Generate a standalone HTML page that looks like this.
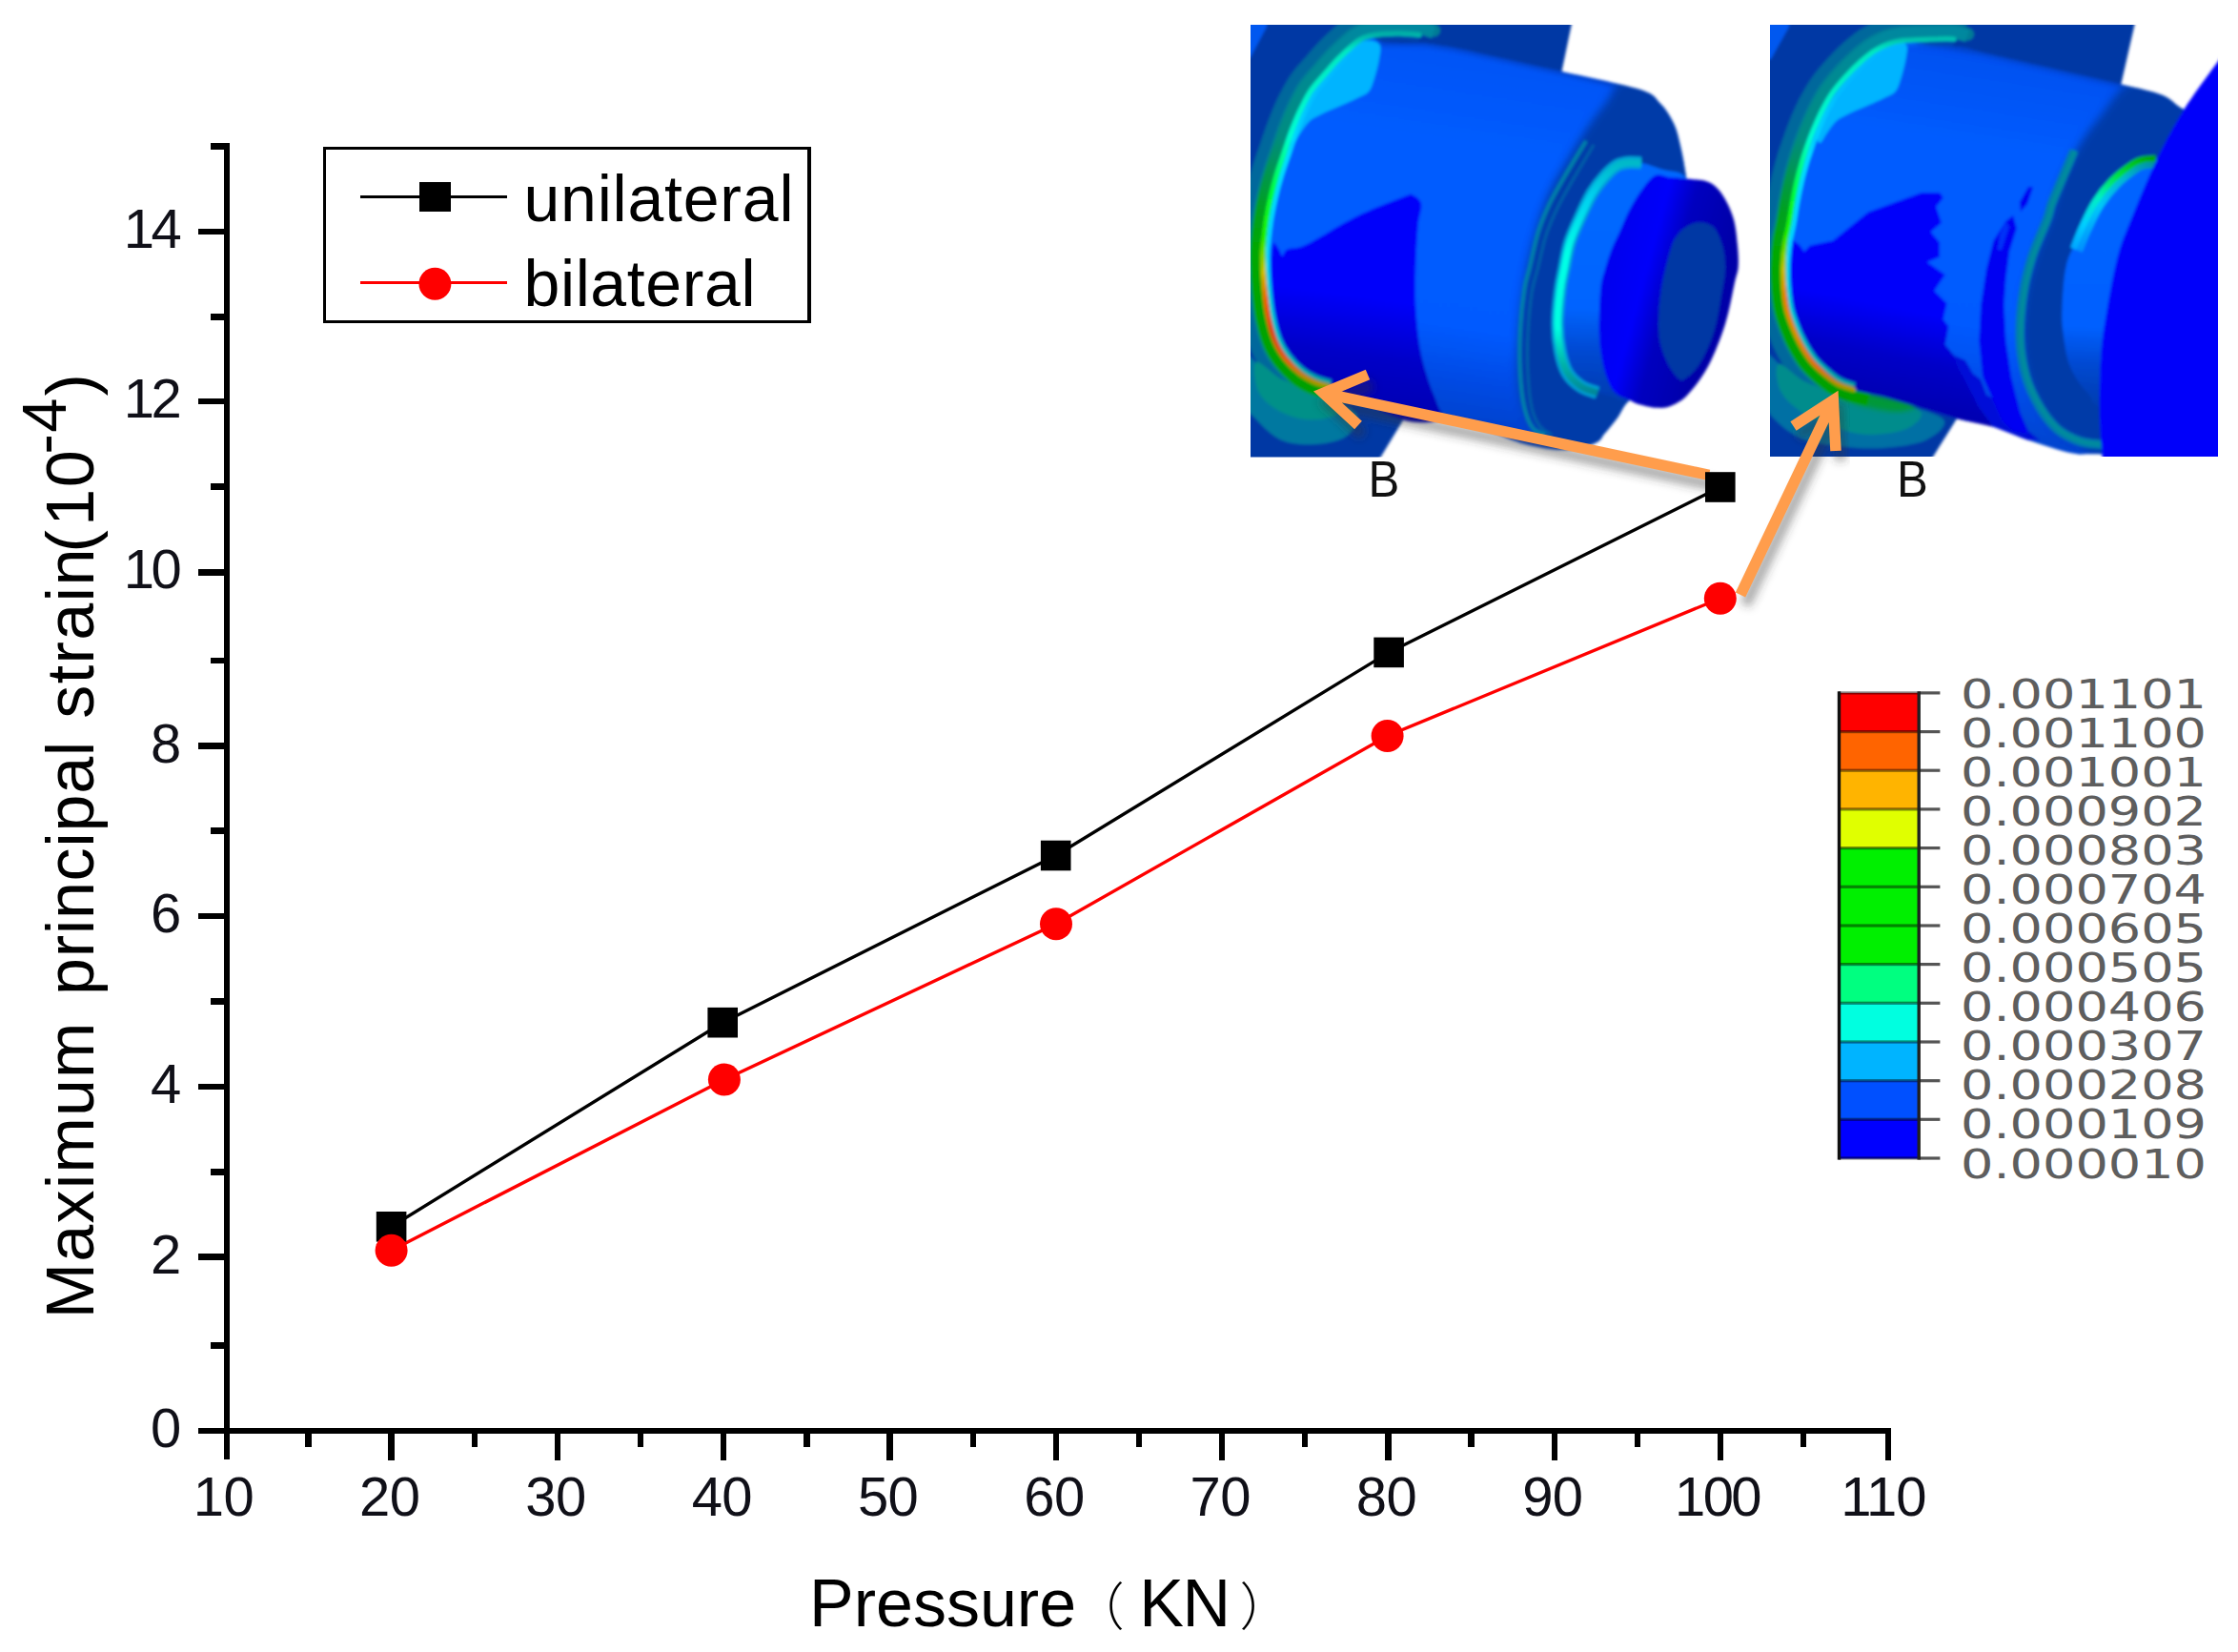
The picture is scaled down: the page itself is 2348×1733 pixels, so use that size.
<!DOCTYPE html>
<html lang="en"><head><meta charset="utf-8"><title>Maximum principal strain vs pressure</title>
<style>
html,body{margin:0;padding:0;background:#fff;}
body{width:2348px;height:1733px;overflow:hidden;}
svg{display:block;}
text{white-space:pre;}
</style></head><body>
<svg width="2348" height="1733" viewBox="0 0 2348 1733">
<rect width="2348" height="1733" fill="#fff"/>
<defs>
<clipPath id="clip1"><rect x="1312" y="26" width="520" height="453.5"/></clipPath>
<clipPath id="clip2"><rect x="1857" y="26" width="470" height="453"/></clipPath>
<filter id="soft" x="-5%" y="-5%" width="110%" height="110%"><feGaussianBlur stdDeviation="1.4"/></filter>
<filter id="soft2" x="-10%" y="-10%" width="120%" height="120%"><feGaussianBlur stdDeviation="2.5"/></filter>
<filter id="soft3" x="-10%" y="-10%" width="120%" height="120%"><feGaussianBlur stdDeviation="4"/></filter>
<linearGradient id="cylg1" gradientUnits="userSpaceOnUse" x1="1560" y1="60" x2="1500" y2="450">
 <stop offset="0" stop-color="#0054f6"/><stop offset="0.25" stop-color="#005cff"/><stop offset="0.72" stop-color="#005aff"/><stop offset="0.88" stop-color="#0048e0"/><stop offset="1" stop-color="#0040c8"/>
</linearGradient>
<linearGradient id="patchg1" gradientUnits="userSpaceOnUse" x1="1420" y1="310" x2="1405" y2="420">
 <stop offset="0" stop-color="#0000fa"/><stop offset="0.55" stop-color="#0000c8"/><stop offset="1" stop-color="#0000b4"/>
</linearGradient>
<linearGradient id="bandg1" gradientUnits="userSpaceOnUse" x1="1700" y1="180" x2="1690" y2="420">
 <stop offset="0" stop-color="#0068ff"/><stop offset="0.6" stop-color="#0064ff"/><stop offset="0.8" stop-color="#0048d0"/><stop offset="1" stop-color="#003cb0"/>
</linearGradient>
<linearGradient id="cyg1" gradientUnits="userSpaceOnUse" x1="0" y1="170" x2="0" y2="412">
 <stop offset="0" stop-color="#00b8c8"/><stop offset="0.15" stop-color="#00d0f0"/><stop offset="0.4" stop-color="#00ffe6"/><stop offset="0.72" stop-color="#00ffe0"/><stop offset="0.88" stop-color="#00b0a8"/><stop offset="1" stop-color="#008898"/>
</linearGradient>
<linearGradient id="scg1" gradientUnits="userSpaceOnUse" x1="1690" y1="290" x2="1800" y2="320">
 <stop offset="0" stop-color="#0000f0"/><stop offset="0.3" stop-color="#0000fa"/><stop offset="0.55" stop-color="#0000c0"/><stop offset="1" stop-color="#0000a8"/>
</linearGradient>
<linearGradient id="ringhot1" gradientUnits="userSpaceOnUse" x1="0" y1="30" x2="0" y2="406">
 <stop offset="0" stop-color="#00a0a0"/><stop offset="0.06" stop-color="#00e8c0"/><stop offset="0.30" stop-color="#00ffd0"/><stop offset="0.45" stop-color="#00ff40"/><stop offset="0.58" stop-color="#20f000"/><stop offset="0.68" stop-color="#d0c000"/><stop offset="0.76" stop-color="#f06000"/><stop offset="0.84" stop-color="#e04810"/><stop offset="0.93" stop-color="#e06010"/><stop offset="1" stop-color="#a0a000"/>
</linearGradient>
<linearGradient id="ringdk1" gradientUnits="userSpaceOnUse" x1="0" y1="30" x2="0" y2="406">
 <stop offset="0" stop-color="#0088a0"/><stop offset="0.3" stop-color="#008c80"/><stop offset="0.5" stop-color="#00a020"/><stop offset="0.62" stop-color="#00a800"/><stop offset="1" stop-color="#00a000"/>
</linearGradient>
<linearGradient id="ringin1" gradientUnits="userSpaceOnUse" x1="0" y1="30" x2="0" y2="406">
 <stop offset="0" stop-color="#00b4ff" stop-opacity="0"/><stop offset="0.35" stop-color="#00e0ff"/><stop offset="0.6" stop-color="#00d8ff"/><stop offset="0.8" stop-color="#00c8d0"/><stop offset="1" stop-color="#00a0a0"/>
</linearGradient>
<linearGradient id="cylg2" gradientUnits="userSpaceOnUse" x1="2110" y1="60" x2="2050" y2="450">
 <stop offset="0" stop-color="#0050f0"/><stop offset="0.25" stop-color="#005cff"/><stop offset="0.72" stop-color="#005aff"/><stop offset="0.88" stop-color="#004ce8"/><stop offset="1" stop-color="#0044d0"/>
</linearGradient>
<linearGradient id="patchg2" gradientUnits="userSpaceOnUse" x1="1975" y1="320" x2="1955" y2="420">
 <stop offset="0" stop-color="#0000fa"/><stop offset="0.5" stop-color="#0000c8"/><stop offset="1" stop-color="#0000b0"/>
</linearGradient>
<linearGradient id="bandg2" gradientUnits="userSpaceOnUse" x1="2200" y1="200" x2="2190" y2="430">
 <stop offset="0" stop-color="#0064ff"/><stop offset="0.62" stop-color="#0060ff"/><stop offset="0.8" stop-color="#0048d0"/><stop offset="1" stop-color="#003cac"/>
</linearGradient>
<linearGradient id="grg2" gradientUnits="userSpaceOnUse" x1="2262" y1="168" x2="2180" y2="262">
 <stop offset="0" stop-color="#00a800"/><stop offset="0.3" stop-color="#00e040"/><stop offset="0.55" stop-color="#00f0c0"/><stop offset="0.8" stop-color="#00d0ff"/><stop offset="1" stop-color="#00a8ff"/>
</linearGradient>
<linearGradient id="grg2b" gradientUnits="userSpaceOnUse" x1="2262" y1="168" x2="2180" y2="262">
 <stop offset="0" stop-color="#008ca0"/><stop offset="0.3" stop-color="#00b8d0"/><stop offset="0.6" stop-color="#00c8f8"/><stop offset="1" stop-color="#0090ff"/>
</linearGradient>
<linearGradient id="ringhot2" gradientUnits="userSpaceOnUse" x1="0" y1="30" x2="0" y2="412">
 <stop offset="0" stop-color="#00a0a0"/><stop offset="0.06" stop-color="#00e8c0"/><stop offset="0.30" stop-color="#00ffd0"/><stop offset="0.45" stop-color="#00ff40"/><stop offset="0.56" stop-color="#20f000"/><stop offset="0.66" stop-color="#c8c000"/><stop offset="0.74" stop-color="#e88000"/><stop offset="0.84" stop-color="#d89000"/><stop offset="0.93" stop-color="#e07010"/><stop offset="1" stop-color="#a0a000"/>
</linearGradient>
<linearGradient id="ringdk2" gradientUnits="userSpaceOnUse" x1="0" y1="30" x2="0" y2="412">
 <stop offset="0" stop-color="#0088a0"/><stop offset="0.3" stop-color="#008c80"/><stop offset="0.5" stop-color="#00a020"/><stop offset="0.62" stop-color="#00a800"/><stop offset="1" stop-color="#00a000"/>
</linearGradient>
</defs><g clip-path="url(#clip1)">
<g filter="url(#soft)">
<path d="M1300.0,15.0 L1651.0,15.0 L1638.5,75.0 L1560.0,200.0 L1472.5,440.0 L1441.0,492.0 L1300.0,492.0Z" fill="#0038a4"/>
<path d="M1300.0,15.0 L1329.0,15.0 L1329.0,28.0 L1312.0,60.0 L1300.0,60.0Z" fill="#0058f0"/>
<path d="M1490.1,22.0 C1486.8,21.8 1477.1,20.7 1470.4,20.5 C1463.6,20.3 1456.1,20.5 1449.7,21.1 C1443.4,21.6 1437.6,22.4 1432.1,24.0 C1426.7,25.6 1423.1,26.5 1417.0,30.8 C1411.0,35.1 1402.0,43.6 1395.8,49.7 C1389.7,55.7 1385.4,60.9 1380.1,67.1 C1374.7,73.2 1368.4,79.7 1363.8,86.6 C1359.1,93.4 1355.5,100.8 1351.9,108.1 C1348.4,115.4 1345.6,122.3 1342.5,130.4 C1339.3,138.5 1336.1,148.5 1333.3,156.7 C1330.5,164.9 1327.9,172.0 1325.5,179.8 C1323.2,187.6 1321.0,195.6 1319.2,203.5 C1317.3,211.4 1315.8,218.9 1314.5,227.2 C1313.2,235.6 1311.9,246.5 1311.3,253.6 C1310.6,260.8 1310.4,262.3 1310.5,270.3 C1310.6,278.2 1311.1,290.7 1312.1,301.3 C1313.0,311.8 1314.0,323.4 1316.1,333.8 C1318.1,344.1 1320.9,354.9 1324.3,363.4 C1327.8,371.9 1331.9,378.3 1336.9,384.9 C1342.0,391.4 1348.5,397.9 1354.5,402.7 C1360.5,407.5 1366.7,410.9 1372.8,413.6 C1378.8,416.4 1387.7,418.4 1390.7,419.3" fill="none" stroke="#00689c" stroke-width="25" stroke-linecap="round"/>
<path d="M1504.6,31.9 C1502.3,31.2 1496.3,28.6 1490.5,27.6 C1484.8,26.6 1477.0,26.2 1470.2,26.0 C1463.5,25.8 1456.3,26.0 1450.2,26.5 C1444.1,27.1 1438.6,27.9 1433.6,29.3 C1428.6,30.8 1425.9,31.2 1420.3,35.2 C1414.6,39.3 1405.7,47.7 1399.7,53.6 C1393.7,59.5 1389.4,64.7 1384.2,70.7 C1379.0,76.7 1372.8,83.1 1368.3,89.7 C1363.7,96.3 1360.3,103.4 1356.9,110.5 C1353.4,117.6 1350.7,124.4 1347.6,132.4 C1344.5,140.4 1341.3,150.3 1338.5,158.5 C1335.7,166.6 1333.1,173.7 1330.8,181.4 C1328.5,189.1 1326.3,197.0 1324.5,204.8 C1322.7,212.5 1321.2,219.9 1319.9,228.1 C1318.6,236.3 1317.4,247.1 1316.7,254.2 C1316.1,261.2 1315.9,262.4 1316.0,270.2 C1316.1,277.9 1316.6,290.4 1317.5,300.8 C1318.4,311.2 1319.5,322.6 1321.5,332.7 C1323.5,342.8 1326.1,353.2 1329.5,361.4 C1332.8,369.5 1336.5,375.3 1341.3,381.5 C1346.0,387.7 1352.3,393.9 1358.0,398.4 C1363.6,402.9 1369.3,406.0 1375.0,408.6 C1380.7,411.2 1389.4,413.2 1392.3,414.1" fill="none" stroke="#007c96" stroke-width="13" stroke-linecap="round"/>
<path d="M1305.0,372.0 C1309.2,367.3 1320.0,386.0 1330.0,392.0 C1340.0,398.0 1353.3,403.3 1365.0,408.0 C1376.7,412.7 1390.2,415.3 1400.0,420.0 C1409.8,424.7 1422.0,429.7 1424.0,436.0 C1426.0,442.3 1419.3,453.0 1412.0,458.0 C1404.7,463.0 1391.2,465.3 1380.0,466.0 C1368.8,466.7 1355.3,466.3 1345.0,462.0 C1334.7,457.7 1324.7,447.0 1318.0,440.0 C1311.3,433.0 1307.2,431.3 1305.0,420.0 C1302.8,408.7 1300.8,376.7 1305.0,372.0Z" fill="#0078a0"/>
<path d="M1318.0,380.0 C1322.2,378.0 1334.7,393.0 1345.0,398.0 C1355.3,403.0 1369.5,406.3 1380.0,410.0 C1390.5,413.7 1404.7,415.7 1408.0,420.0 C1411.3,424.3 1406.3,432.7 1400.0,436.0 C1393.7,439.3 1380.0,441.0 1370.0,440.0 C1360.0,439.0 1348.3,435.0 1340.0,430.0 C1331.7,425.0 1323.7,418.3 1320.0,410.0 C1316.3,401.7 1313.8,382.0 1318.0,380.0Z" fill="#009088"/>
<clipPath id="bodyclip1"><path d="M1391.0,76.6 C1396.0,70.8 1400.2,65.7 1406.0,60.0 C1411.8,54.3 1419.9,45.8 1425.6,42.5 C1431.3,39.2 1435.9,39.8 1440.0,40.0 C1444.1,40.2 1444.7,43.2 1450.0,44.0 C1455.3,44.8 1464.3,44.8 1472.0,45.0 C1479.7,45.2 1486.7,44.6 1496.0,45.5 C1505.3,46.4 1515.5,48.1 1528.0,50.5 C1540.5,52.9 1559.0,57.3 1571.0,60.0 C1583.0,62.7 1588.8,64.0 1600.0,66.5 C1611.2,69.0 1618.5,70.4 1638.5,74.9 C1658.5,79.5 1702.6,88.2 1719.8,93.8 C1737.0,99.4 1735.5,102.2 1741.6,108.3 C1747.7,114.3 1752.6,122.3 1756.2,130.1 C1759.8,137.8 1761.2,145.4 1763.4,154.8 C1765.6,164.2 1767.3,174.3 1769.2,186.8 C1771.1,199.3 1774.9,206.1 1775.0,230.0 C1775.1,253.9 1775.8,301.7 1770.0,330.0 C1764.2,358.3 1750.0,385.0 1740.0,400.0 C1730.0,415.0 1716.9,413.4 1709.7,419.8 C1702.5,426.2 1701.0,432.9 1696.6,438.7 C1692.2,444.5 1687.4,450.3 1683.5,454.7 C1679.6,459.1 1680.5,462.0 1673.3,464.9 C1666.0,467.8 1652.2,471.8 1640.0,472.0 C1627.8,472.2 1613.3,469.3 1600.0,466.0 C1586.7,462.7 1576.7,457.0 1560.0,452.0 C1543.3,447.0 1520.0,441.3 1500.0,436.0 C1480.0,430.7 1457.5,425.1 1440.0,420.0 C1422.5,414.9 1405.2,408.8 1395.0,405.5 C1384.8,402.2 1383.9,402.8 1378.7,400.4 C1373.5,398.0 1368.6,395.5 1363.6,391.4 C1358.5,387.3 1352.7,381.6 1348.4,376.0 C1344.1,370.4 1340.8,365.5 1337.8,358.0 C1334.8,350.5 1332.2,340.7 1330.3,331.0 C1328.4,321.3 1327.4,310.2 1326.5,300.0 C1325.6,289.8 1325.1,277.5 1325.0,270.0 C1324.9,262.5 1325.1,261.8 1325.7,255.0 C1326.3,248.2 1327.5,237.5 1328.8,229.5 C1330.1,221.5 1331.5,214.4 1333.3,206.8 C1335.1,199.2 1337.1,191.6 1339.4,184.0 C1341.7,176.4 1344.2,169.5 1347.0,161.4 C1349.8,153.3 1353.0,143.4 1356.0,135.6 C1359.0,127.8 1361.7,121.2 1365.0,114.4 C1368.3,107.6 1371.4,101.1 1375.7,94.8 C1380.0,88.5 1386.0,82.4 1391.0,76.6Z"/></clipPath>
<path d="M1391.0,76.6 C1396.0,70.8 1400.2,65.7 1406.0,60.0 C1411.8,54.3 1419.9,45.8 1425.6,42.5 C1431.3,39.2 1435.9,39.8 1440.0,40.0 C1444.1,40.2 1444.7,43.2 1450.0,44.0 C1455.3,44.8 1464.3,44.8 1472.0,45.0 C1479.7,45.2 1486.7,44.6 1496.0,45.5 C1505.3,46.4 1515.5,48.1 1528.0,50.5 C1540.5,52.9 1559.0,57.3 1571.0,60.0 C1583.0,62.7 1588.8,64.0 1600.0,66.5 C1611.2,69.0 1618.5,70.4 1638.5,74.9 C1658.5,79.5 1702.6,88.2 1719.8,93.8 C1737.0,99.4 1735.5,102.2 1741.6,108.3 C1747.7,114.3 1752.6,122.3 1756.2,130.1 C1759.8,137.8 1761.2,145.4 1763.4,154.8 C1765.6,164.2 1767.3,174.3 1769.2,186.8 C1771.1,199.3 1774.9,206.1 1775.0,230.0 C1775.1,253.9 1775.8,301.7 1770.0,330.0 C1764.2,358.3 1750.0,385.0 1740.0,400.0 C1730.0,415.0 1716.9,413.4 1709.7,419.8 C1702.5,426.2 1701.0,432.9 1696.6,438.7 C1692.2,444.5 1687.4,450.3 1683.5,454.7 C1679.6,459.1 1680.5,462.0 1673.3,464.9 C1666.0,467.8 1652.2,471.8 1640.0,472.0 C1627.8,472.2 1613.3,469.3 1600.0,466.0 C1586.7,462.7 1576.7,457.0 1560.0,452.0 C1543.3,447.0 1520.0,441.3 1500.0,436.0 C1480.0,430.7 1457.5,425.1 1440.0,420.0 C1422.5,414.9 1405.2,408.8 1395.0,405.5 C1384.8,402.2 1383.9,402.8 1378.7,400.4 C1373.5,398.0 1368.6,395.5 1363.6,391.4 C1358.5,387.3 1352.7,381.6 1348.4,376.0 C1344.1,370.4 1340.8,365.5 1337.8,358.0 C1334.8,350.5 1332.2,340.7 1330.3,331.0 C1328.4,321.3 1327.4,310.2 1326.5,300.0 C1325.6,289.8 1325.1,277.5 1325.0,270.0 C1324.9,262.5 1325.1,261.8 1325.7,255.0 C1326.3,248.2 1327.5,237.5 1328.8,229.5 C1330.1,221.5 1331.5,214.4 1333.3,206.8 C1335.1,199.2 1337.1,191.6 1339.4,184.0 C1341.7,176.4 1344.2,169.5 1347.0,161.4 C1349.8,153.3 1353.0,143.4 1356.0,135.6 C1359.0,127.8 1361.7,121.2 1365.0,114.4 C1368.3,107.6 1371.4,101.1 1375.7,94.8 C1380.0,88.5 1386.0,82.4 1391.0,76.6Z" fill="url(#cylg1)"/>
<g clip-path="url(#bodyclip1)"><path d="M1448.0,43.0 L1496.0,43.5 L1528.0,48.5 L1571.0,58.0 L1600.0,64.5 L1638.5,73.0 L1719.8,92.0 L1741.6,106.0" fill="none" stroke="#0040c4" stroke-width="9" filter="url(#soft2)"/></g>
<path d="M1378.0,92.0 C1383.5,84.7 1389.3,78.2 1395.0,72.0 C1400.7,65.8 1406.5,59.7 1412.0,55.0 C1417.5,50.3 1423.3,46.0 1428.0,44.0 C1432.7,42.0 1436.7,42.3 1440.0,43.0 C1443.3,43.7 1446.8,44.8 1448.0,48.0 C1449.2,51.2 1448.0,56.3 1447.0,62.0 C1446.0,67.7 1443.8,76.3 1442.0,82.0 C1440.2,87.7 1439.0,92.5 1436.0,96.0 C1433.0,99.5 1429.3,100.3 1424.0,103.0 C1418.7,105.7 1410.3,109.2 1404.0,112.0 C1397.7,114.8 1391.0,117.5 1386.0,120.0 C1381.0,122.5 1377.7,123.7 1374.0,127.0 C1370.3,130.3 1366.8,136.2 1364.0,140.0 C1361.2,143.8 1358.8,150.0 1357.0,150.0 C1355.2,150.0 1352.2,145.7 1353.0,140.0 C1353.8,134.3 1357.8,124.0 1362.0,116.0 C1366.2,108.0 1372.5,99.3 1378.0,92.0Z" fill="#00b4ff"/>
<path d="M1335.3,256.6 C1336.7,251.0 1340.3,260.0 1342.0,262.0 C1343.7,264.0 1344.0,268.6 1345.4,268.5 C1346.8,268.4 1346.3,263.7 1350.5,261.7 C1354.7,259.7 1358.9,262.2 1370.8,256.6 C1382.7,251.0 1404.8,236.1 1421.7,227.8 C1438.7,219.5 1462.3,210.4 1472.5,206.6 C1482.7,202.8 1479.6,203.6 1482.7,204.9 C1485.8,206.2 1490.4,209.0 1491.2,214.2 C1492.0,219.4 1488.8,225.6 1487.8,236.3 C1486.8,247.0 1485.7,264.5 1485.3,278.6 C1484.9,292.7 1484.6,306.9 1485.3,321.0 C1486.0,335.1 1487.4,350.7 1489.5,363.4 C1491.6,376.1 1494.9,387.1 1498.0,397.3 C1501.1,407.5 1505.8,417.3 1508.1,424.4 C1510.4,431.5 1518.3,437.4 1512.0,440.0 C1505.7,442.6 1489.5,445.8 1470.0,440.0 C1450.5,434.2 1410.1,412.6 1395.0,405.5 C1379.9,398.4 1385.6,402.1 1379.3,397.3 C1373.0,392.6 1363.5,385.5 1357.3,377.0 C1351.1,368.5 1346.0,360.0 1342.0,346.4 C1338.0,332.8 1334.7,310.6 1333.6,295.6 C1332.5,280.6 1333.9,262.2 1335.3,256.6Z" fill="url(#patchg1)"/>
<g clip-path="url(#bodyclip1)"><path d="M1700.0,85.0 C1706.5,80.3 1715.0,75.5 1725.0,78.0 C1735.0,80.5 1750.8,91.3 1760.0,100.0 C1769.2,108.7 1775.0,115.5 1780.0,130.0 C1785.0,144.5 1787.5,170.1 1790.0,186.8 C1792.5,203.5 1795.0,206.1 1795.0,230.0 C1795.0,253.9 1795.8,298.3 1790.0,330.0 C1784.2,361.7 1771.7,401.7 1760.0,420.0 C1748.3,438.3 1729.2,434.2 1720.0,440.0 C1710.8,445.8 1710.0,449.2 1705.0,455.0 C1700.0,460.8 1695.3,470.8 1690.0,475.0 C1684.7,479.2 1680.0,478.8 1673.3,480.0 C1666.6,481.2 1658.0,485.0 1650.0,482.0 C1642.0,479.0 1632.2,468.0 1625.0,462.0 C1617.8,456.0 1611.7,452.2 1607.0,446.0 C1602.3,439.8 1599.5,433.5 1597.0,425.0 C1594.5,416.5 1592.7,408.2 1592.0,395.0 C1591.3,381.8 1591.8,362.5 1593.0,346.0 C1594.2,329.5 1596.3,312.0 1599.0,296.0 C1601.7,280.0 1604.8,265.2 1609.0,250.0 C1613.2,234.8 1617.8,219.2 1624.0,205.0 C1630.2,190.8 1638.7,177.5 1646.0,165.0 C1653.3,152.5 1661.3,139.8 1668.0,130.0 C1674.7,120.2 1680.7,113.5 1686.0,106.0 C1691.3,98.5 1693.5,89.7 1700.0,85.0Z" fill="#003aa8" filter="url(#soft3)"/></g>
<path d="M1664.0,148.0 C1660.2,154.2 1647.8,174.2 1641.4,185.3 C1635.0,196.4 1630.0,204.7 1625.4,214.4 C1620.8,224.1 1617.2,232.5 1613.8,243.4 C1610.4,254.3 1607.4,270.0 1605.0,280.0 C1602.6,290.0 1600.9,292.4 1599.2,303.6 C1597.5,314.8 1595.6,332.7 1594.9,347.2 C1594.2,361.7 1594.2,377.5 1594.9,390.8 C1595.6,404.1 1597.0,417.4 1599.2,427.1 C1601.4,436.8 1604.4,444.1 1608.0,448.9 C1611.6,453.7 1618.8,454.8 1621.0,456.0" fill="none" stroke="#0080a8" stroke-width="4"/>
<path d="M1672.0,152.0 C1668.3,158.2 1656.3,178.0 1650.0,189.0 C1643.7,200.0 1638.7,208.3 1634.0,218.0 C1629.3,227.7 1625.5,236.2 1622.0,247.0 C1618.5,257.8 1615.5,273.0 1613.0,283.0 C1610.5,293.0 1608.7,295.8 1607.0,307.0 C1605.3,318.2 1603.7,335.8 1603.0,350.0 C1602.3,364.2 1602.3,379.0 1603.0,392.0 C1603.7,405.0 1604.8,418.7 1607.0,428.0 C1609.2,437.3 1612.5,443.3 1616.0,448.0 C1619.5,452.7 1626.0,454.7 1628.0,456.0" fill="none" stroke="#0068a8" stroke-width="3" opacity="0.8"/>
<path d="M1717.0,170.0 C1725.1,170.7 1736.3,175.2 1745.0,178.0 C1753.7,180.8 1763.2,178.3 1769.0,187.0 C1774.8,195.7 1779.0,206.2 1780.0,230.0 C1781.0,253.8 1780.8,301.7 1775.0,330.0 C1769.2,358.3 1755.9,385.0 1745.0,400.0 C1734.1,415.0 1718.9,417.1 1709.7,419.8 C1700.5,422.5 1696.1,417.4 1690.0,416.0 C1683.9,414.6 1678.5,412.9 1673.3,411.1 C1668.1,409.3 1663.6,408.7 1658.8,405.3 C1654.0,401.9 1647.9,396.9 1644.3,390.8 C1640.7,384.8 1638.7,377.5 1637.0,369.0 C1635.3,360.5 1634.1,350.8 1634.1,339.9 C1634.1,329.0 1635.1,316.9 1637.0,303.6 C1638.9,290.3 1644.0,268.3 1645.7,260.0 C1647.4,251.7 1645.0,259.3 1647.2,253.6 C1649.4,247.9 1654.9,234.5 1658.8,226.0 C1662.7,217.5 1666.3,209.5 1670.4,202.7 C1674.5,195.9 1679.1,190.1 1683.5,185.3 C1687.9,180.5 1691.0,176.2 1696.6,173.7 C1702.2,171.1 1708.9,169.3 1717.0,170.0Z" fill="url(#bandg1)"/>
<path d="M1722.0,171.0 C1720.0,170.9 1714.2,170.1 1710.0,170.5 C1705.8,170.9 1701.0,171.2 1696.6,173.7 C1692.2,176.2 1687.9,180.5 1683.5,185.3 C1679.1,190.1 1674.5,195.9 1670.4,202.7 C1666.3,209.5 1662.7,217.5 1658.8,226.0 C1654.9,234.5 1650.2,244.3 1647.2,253.6 C1644.2,262.9 1642.7,273.7 1641.0,282.0 C1639.3,290.3 1638.2,294.0 1637.0,303.6 C1635.8,313.2 1634.1,329.0 1634.1,339.9 C1634.1,350.8 1635.3,360.5 1637.0,369.0 C1638.7,377.5 1640.7,384.8 1644.3,390.8 C1647.9,396.9 1653.5,401.8 1658.8,405.3 C1664.1,408.8 1673.1,410.9 1676.0,412.0" fill="none" stroke="#00a0d8" stroke-width="13"/>
<path d="M1722.0,171.0 C1720.0,170.9 1714.2,170.1 1710.0,170.5 C1705.8,170.9 1701.0,171.2 1696.6,173.7 C1692.2,176.2 1687.9,180.5 1683.5,185.3 C1679.1,190.1 1674.5,195.9 1670.4,202.7 C1666.3,209.5 1662.7,217.5 1658.8,226.0 C1654.9,234.5 1650.2,244.3 1647.2,253.6 C1644.2,262.9 1642.7,273.7 1641.0,282.0 C1639.3,290.3 1638.2,294.0 1637.0,303.6 C1635.8,313.2 1634.1,329.0 1634.1,339.9 C1634.1,350.8 1635.3,360.5 1637.0,369.0 C1638.7,377.5 1640.7,384.8 1644.3,390.8 C1647.9,396.9 1653.5,401.8 1658.8,405.3 C1664.1,408.8 1673.1,410.9 1676.0,412.0" fill="none" stroke="url(#cyg1)" stroke-width="7.5"/>
<path d="M1734.4,185.3 C1741.0,180.6 1746.2,185.6 1752.0,186.0 C1757.8,186.4 1762.5,186.7 1769.2,187.5 C1776.0,188.3 1786.2,188.3 1792.5,191.1 C1798.8,193.9 1802.7,197.9 1807.0,204.2 C1811.3,210.5 1815.9,219.9 1818.6,228.9 C1821.3,237.9 1822.2,249.5 1823.0,258.0 C1823.8,266.5 1824.2,273.6 1823.7,280.0 C1823.2,286.4 1822.3,286.3 1820.0,296.3 C1817.7,306.3 1814.6,325.5 1810.0,340.0 C1805.4,354.5 1799.0,371.2 1792.5,383.5 C1786.0,395.8 1777.2,407.0 1770.7,414.0 C1764.2,421.0 1758.6,423.4 1753.3,425.7 C1748.0,428.0 1744.3,428.1 1738.7,427.8 C1733.1,427.6 1724.6,425.5 1719.8,424.2 C1715.0,422.9 1713.8,421.7 1709.7,419.8 C1705.6,417.9 1699.0,416.2 1695.1,412.6 C1691.2,409.0 1688.8,404.1 1686.4,398.0 C1684.0,391.9 1682.0,384.7 1680.6,376.2 C1679.1,367.7 1677.9,359.3 1677.7,347.2 C1677.5,335.1 1678.2,314.5 1679.2,303.6 C1680.2,292.7 1682.1,288.9 1684.0,282.0 C1685.9,275.1 1688.0,268.4 1690.5,262.0 C1693.0,255.6 1695.3,251.3 1699.0,243.4 C1702.7,235.5 1706.7,224.1 1712.6,214.4 C1718.5,204.7 1727.8,190.0 1734.4,185.3Z" fill="url(#scg1)"/>
<path d="M1783.8,233.3 C1788.4,233.6 1794.4,234.9 1798.3,239.0 C1802.2,243.1 1805.0,251.2 1807.0,258.0 C1809.0,264.8 1810.0,272.4 1810.0,280.0 C1810.0,287.6 1809.0,292.4 1807.0,303.6 C1805.0,314.8 1802.2,334.4 1798.3,347.2 C1794.4,360.0 1788.6,372.4 1783.8,380.6 C1779.0,388.8 1773.1,393.9 1769.2,396.6 C1765.3,399.3 1764.1,400.0 1760.5,396.6 C1756.9,393.2 1750.8,384.4 1747.4,376.2 C1744.0,368.0 1740.9,359.3 1740.2,347.2 C1739.5,335.1 1740.8,318.1 1743.0,303.6 C1745.2,289.1 1750.4,269.6 1753.3,260.0 C1756.2,250.4 1757.6,249.8 1760.5,246.0 C1763.4,242.2 1766.8,239.1 1770.7,237.0 C1774.6,234.9 1779.2,233.0 1783.8,233.3Z" fill="#0038a4"/>
<path d="M1504.1,33.8 C1501.7,33.1 1495.8,30.6 1490.2,29.6 C1484.5,28.6 1476.8,28.2 1470.2,28.0 C1463.6,27.8 1456.4,28.0 1450.4,28.5 C1444.4,29.1 1439.0,29.9 1434.1,31.3 C1429.3,32.6 1427.0,32.9 1421.5,36.9 C1416.0,40.8 1407.0,49.2 1401.1,55.0 C1395.1,60.9 1390.9,66.0 1385.7,72.0 C1380.5,78.0 1374.4,84.3 1369.9,90.8 C1365.4,97.4 1362.1,104.3 1358.7,111.4 C1355.3,118.4 1352.5,125.1 1349.5,133.1 C1346.4,141.1 1343.2,151.0 1340.4,159.1 C1337.6,167.3 1335.0,174.3 1332.7,182.0 C1330.4,189.7 1328.3,197.5 1326.5,205.2 C1324.7,213.0 1323.2,220.2 1321.9,228.4 C1320.6,236.6 1319.4,247.4 1318.7,254.3 C1318.1,261.3 1317.9,262.4 1318.0,270.1 C1318.1,277.8 1318.6,290.2 1319.5,300.6 C1320.4,311.0 1321.5,322.3 1323.4,332.3 C1325.4,342.3 1328.1,352.6 1331.3,360.6 C1334.5,368.6 1338.2,374.2 1342.9,380.3 C1347.5,386.3 1353.7,392.4 1359.2,396.9 C1364.7,401.3 1370.2,404.2 1375.8,406.8 C1381.4,409.3 1390.1,411.3 1392.9,412.2" fill="none" stroke="url(#ringdk1)" stroke-width="13"/>
<path d="M1488.6,41.5 C1485.5,41.2 1476.1,40.2 1469.9,40.0 C1463.7,39.8 1456.9,40.0 1451.4,40.5 C1446.0,41.0 1441.1,41.8 1437.3,42.8 C1433.5,43.8 1433.2,43.1 1428.6,46.5 C1423.9,50.0 1415.1,58.0 1409.5,63.6 C1403.9,69.1 1399.7,74.2 1394.8,79.9 C1389.8,85.6 1384.0,91.5 1379.8,97.6 C1375.6,103.7 1372.7,109.9 1369.5,116.6 C1366.3,123.2 1363.6,129.6 1360.7,137.4 C1357.7,145.1 1354.5,155.0 1351.7,163.0 C1349.0,171.0 1346.4,178.0 1344.2,185.4 C1341.9,192.9 1339.9,200.5 1338.2,207.9 C1336.4,215.4 1335.0,222.4 1333.7,230.3 C1332.5,238.2 1331.3,248.9 1330.7,255.5 C1330.1,262.1 1329.9,262.6 1330.0,269.9 C1330.1,277.3 1330.6,289.5 1331.5,299.6 C1332.3,309.6 1333.4,320.6 1335.2,330.0 C1337.0,339.5 1339.6,349.0 1342.4,356.1 C1345.3,363.3 1348.3,367.7 1352.4,372.9 C1356.4,378.2 1362.0,383.7 1366.7,387.5 C1371.5,391.3 1375.8,393.6 1380.7,395.8 C1385.7,398.0 1393.9,399.9 1396.5,400.7" fill="none" stroke="url(#ringin1)" stroke-width="4.5"/>
<path d="M1489.0,36.5 C1485.8,36.2 1476.3,35.2 1470.0,35.0 C1463.7,34.8 1456.7,35.0 1451.0,35.5 C1445.3,36.0 1440.2,36.8 1436.0,38.0 C1431.8,39.2 1430.6,38.8 1425.6,42.5 C1420.6,46.2 1411.8,54.3 1406.0,60.0 C1400.2,65.7 1396.0,70.8 1391.0,76.6 C1386.0,82.4 1380.0,88.5 1375.7,94.8 C1371.4,101.1 1368.3,107.6 1365.0,114.4 C1361.7,121.2 1359.0,127.8 1356.0,135.6 C1353.0,143.4 1349.8,153.3 1347.0,161.4 C1344.2,169.5 1341.7,176.4 1339.4,184.0 C1337.1,191.6 1335.1,199.2 1333.3,206.8 C1331.5,214.4 1330.1,221.5 1328.8,229.5 C1327.5,237.5 1326.3,248.2 1325.7,255.0 C1325.1,261.8 1324.9,262.5 1325.0,270.0 C1325.1,277.5 1325.6,289.8 1326.5,300.0 C1327.4,310.2 1328.4,321.3 1330.3,331.0 C1332.2,340.7 1334.8,350.5 1337.8,358.0 C1340.8,365.5 1344.1,370.4 1348.4,376.0 C1352.7,381.6 1358.5,387.3 1363.6,391.4 C1368.6,395.5 1373.5,398.0 1378.7,400.4 C1383.9,402.8 1392.3,404.6 1395.0,405.5" fill="none" stroke="url(#ringhot1)" stroke-width="5.5" stroke-linecap="round"/>
</g></g><g clip-path="url(#clip2)">
<g filter="url(#soft)">
<path d="M1850.0,15.0 L2242.0,15.0 L2225.3,88.4 L2120.0,200.0 L2053.0,439.3 L2020.0,492.0 L1850.0,492.0Z" fill="#0038a4"/>
<path d="M1850.0,15.0 L1877.0,15.0 L1877.0,28.0 L1858.0,62.0 L1850.0,62.0Z" fill="#0058f0"/>
<path d="M2050.6,26.5 C2049.4,26.5 2047.7,26.2 2043.2,26.2 C2038.7,26.2 2032.1,26.4 2023.8,26.7 C2015.5,27.1 2001.6,27.3 1993.6,28.3 C1985.6,29.3 1981.6,30.5 1975.7,32.7 C1969.8,34.9 1963.9,37.8 1958.3,41.4 C1952.7,45.1 1947.3,49.7 1942.0,54.4 C1936.7,59.2 1931.6,64.2 1926.5,70.0 C1921.3,75.7 1915.3,82.5 1910.9,88.8 C1906.4,95.1 1903.0,101.4 1899.6,107.9 C1896.2,114.4 1893.2,121.3 1890.4,127.8 C1887.7,134.4 1885.1,141.2 1882.9,147.5 C1880.6,153.8 1878.8,158.9 1876.8,165.7 C1874.8,172.5 1872.5,180.8 1870.8,188.3 C1869.0,195.8 1867.6,203.4 1866.2,210.8 C1864.9,218.2 1863.9,225.7 1862.6,232.5 C1861.4,239.3 1859.7,244.2 1858.6,251.6 C1857.6,258.9 1856.8,268.4 1856.5,276.7 C1856.2,285.1 1856.4,293.4 1857.0,301.9 C1857.7,310.4 1858.7,319.7 1860.4,327.5 C1862.2,335.3 1864.8,341.9 1867.4,348.6 C1870.0,355.3 1872.6,361.2 1876.1,367.6 C1879.6,373.9 1883.7,381.0 1888.5,387.0 C1893.2,392.9 1899.0,398.3 1904.5,403.0 C1909.9,407.8 1915.2,412.1 1921.2,415.3 C1927.1,418.6 1933.9,420.5 1940.1,422.5 C1946.4,424.4 1955.4,426.3 1958.5,427.1" fill="none" stroke="#00689c" stroke-width="25" stroke-linecap="round"/>
<path d="M2064.5,35.9 C2062.4,35.2 2055.3,32.9 2051.8,32.2 C2048.2,31.5 2047.9,31.7 2043.2,31.7 C2038.6,31.7 2032.2,31.9 2024.0,32.2 C2015.9,32.6 2002.0,32.8 1994.3,33.8 C1986.5,34.7 1983.1,35.8 1977.6,37.9 C1972.2,39.9 1966.6,42.6 1961.3,46.1 C1956.0,49.5 1950.8,53.9 1945.7,58.5 C1940.6,63.1 1935.6,68.1 1930.5,73.7 C1925.5,79.2 1919.7,85.9 1915.4,92.0 C1911.0,98.1 1907.8,104.1 1904.5,110.4 C1901.2,116.8 1898.3,123.5 1895.5,130.0 C1892.8,136.5 1890.3,143.1 1888.0,149.3 C1885.8,155.6 1884.1,160.5 1882.1,167.2 C1880.1,173.9 1877.9,182.1 1876.1,189.5 C1874.4,197.0 1873.0,204.4 1871.6,211.8 C1870.3,219.1 1869.3,226.8 1868.1,233.5 C1866.8,240.3 1865.1,245.1 1864.1,252.3 C1863.1,259.6 1862.3,268.7 1862.0,276.9 C1861.7,285.1 1861.9,293.2 1862.5,301.5 C1863.2,309.7 1864.1,318.8 1865.8,326.3 C1867.5,333.9 1870.0,340.2 1872.5,346.6 C1875.0,353.0 1877.5,358.8 1880.9,364.9 C1884.3,371.1 1888.2,377.9 1892.8,383.5 C1897.3,389.2 1902.9,394.4 1908.1,398.9 C1913.3,403.4 1918.2,407.5 1923.8,410.5 C1929.4,413.6 1935.8,415.3 1941.8,417.2 C1947.8,419.1 1956.8,421.0 1959.8,421.7" fill="none" stroke="#007c96" stroke-width="13" stroke-linecap="round"/>
<path d="M1852.0,372.0 C1856.7,367.7 1869.5,387.7 1880.0,394.0 C1890.5,400.3 1901.7,406.3 1915.0,410.0 C1928.3,413.7 1944.2,413.0 1960.0,416.0 C1975.8,419.0 1996.7,423.7 2010.0,428.0 C2023.3,432.3 2038.3,436.3 2040.0,442.0 C2041.7,447.7 2030.8,457.3 2020.0,462.0 C2009.2,466.7 1990.0,469.0 1975.0,470.0 C1960.0,471.0 1944.2,469.7 1930.0,468.0 C1915.8,466.3 1901.3,464.7 1890.0,460.0 C1878.7,455.3 1868.3,446.7 1862.0,440.0 C1855.7,433.3 1853.7,431.3 1852.0,420.0 C1850.3,408.7 1847.3,376.3 1852.0,372.0Z" fill="#0070a4"/>
<path d="M1866.0,382.0 C1870.2,380.3 1882.7,395.0 1893.0,400.0 C1903.3,405.0 1914.3,408.7 1928.0,412.0 C1941.7,415.3 1960.5,416.7 1975.0,420.0 C1989.5,423.3 2010.8,427.0 2015.0,432.0 C2019.2,437.0 2009.2,446.0 2000.0,450.0 C1990.8,454.0 1972.5,456.3 1960.0,456.0 C1947.5,455.7 1936.7,452.0 1925.0,448.0 C1913.3,444.0 1899.5,438.3 1890.0,432.0 C1880.5,425.7 1872.0,418.3 1868.0,410.0 C1864.0,401.7 1861.8,383.7 1866.0,382.0Z" fill="#008c8c"/>
<path d="M1925.0,404.0 C1928.3,403.0 1940.0,407.7 1950.0,410.0 C1960.0,412.3 1975.0,415.3 1985.0,418.0 C1995.0,420.7 2009.2,423.7 2010.0,426.0 C2010.8,428.3 1999.2,432.0 1990.0,432.0 C1980.8,432.0 1965.0,428.7 1955.0,426.0 C1945.0,423.3 1935.0,419.7 1930.0,416.0 C1925.0,412.3 1921.7,405.0 1925.0,404.0Z" fill="#009838" filter="url(#soft2)"/>
<clipPath id="bodyclip2"><path d="M1937.2,79.7 C1942.0,74.4 1946.9,69.5 1951.7,65.2 C1956.5,60.9 1961.4,56.8 1966.2,53.6 C1971.0,50.5 1976.0,48.1 1980.8,46.3 C1985.6,44.5 1990.4,43.1 1995.3,42.7 C2000.2,42.3 2005.2,43.2 2010.0,44.0 C2014.8,44.8 2018.9,46.8 2024.4,47.5 C2030.0,48.2 2037.0,48.1 2043.3,48.5 C2049.6,48.9 2055.9,48.9 2062.0,50.0 C2068.1,51.1 2065.3,51.5 2080.0,55.0 C2094.7,58.5 2125.8,65.4 2150.0,71.0 C2174.2,76.6 2205.5,83.6 2225.3,88.4 C2245.1,93.2 2257.9,95.6 2268.8,100.0 C2279.7,104.4 2280.4,109.6 2290.6,114.6 C2300.8,119.6 2323.4,69.1 2330.0,130.0 C2336.6,190.9 2350.9,422.2 2330.0,480.0 C2309.1,537.8 2230.2,477.2 2204.3,476.5 C2178.4,475.8 2187.2,478.0 2174.4,475.5 C2161.6,473.0 2141.0,466.0 2127.2,461.4 C2113.4,456.8 2103.8,451.4 2091.4,447.7 C2079.0,444.0 2067.0,443.1 2053.0,439.3 C2039.0,435.6 2020.2,429.1 2007.4,425.2 C1994.6,421.3 1985.5,418.1 1975.9,415.7 C1966.3,413.3 1958.1,412.6 1950.0,411.0 C1941.9,409.4 1933.1,409.4 1927.1,406.3 C1921.1,403.2 1918.5,396.8 1914.0,392.1 C1909.5,387.4 1904.0,383.1 1899.8,377.9 C1895.6,372.6 1891.9,366.4 1888.8,360.6 C1885.7,354.8 1883.3,349.3 1880.9,343.3 C1878.5,337.3 1876.2,331.5 1874.6,324.4 C1873.0,317.3 1872.1,308.7 1871.5,300.8 C1870.9,292.9 1870.8,285.1 1871.0,277.2 C1871.2,269.3 1872.0,260.6 1873.0,253.6 C1874.0,246.6 1875.7,241.9 1876.9,235.2 C1878.2,228.5 1879.2,220.7 1880.5,213.4 C1881.8,206.1 1883.2,198.9 1884.9,191.6 C1886.6,184.3 1888.8,176.3 1890.7,169.8 C1892.6,163.3 1894.3,158.5 1896.5,152.4 C1898.7,146.3 1901.1,139.8 1903.8,133.5 C1906.5,127.2 1909.3,120.6 1912.5,114.6 C1915.7,108.5 1918.6,103.0 1922.7,97.2 C1926.8,91.4 1932.4,85.0 1937.2,79.7Z"/></clipPath>
<path d="M1937.2,79.7 C1942.0,74.4 1946.9,69.5 1951.7,65.2 C1956.5,60.9 1961.4,56.8 1966.2,53.6 C1971.0,50.5 1976.0,48.1 1980.8,46.3 C1985.6,44.5 1990.4,43.1 1995.3,42.7 C2000.2,42.3 2005.2,43.2 2010.0,44.0 C2014.8,44.8 2018.9,46.8 2024.4,47.5 C2030.0,48.2 2037.0,48.1 2043.3,48.5 C2049.6,48.9 2055.9,48.9 2062.0,50.0 C2068.1,51.1 2065.3,51.5 2080.0,55.0 C2094.7,58.5 2125.8,65.4 2150.0,71.0 C2174.2,76.6 2205.5,83.6 2225.3,88.4 C2245.1,93.2 2257.9,95.6 2268.8,100.0 C2279.7,104.4 2280.4,109.6 2290.6,114.6 C2300.8,119.6 2323.4,69.1 2330.0,130.0 C2336.6,190.9 2350.9,422.2 2330.0,480.0 C2309.1,537.8 2230.2,477.2 2204.3,476.5 C2178.4,475.8 2187.2,478.0 2174.4,475.5 C2161.6,473.0 2141.0,466.0 2127.2,461.4 C2113.4,456.8 2103.8,451.4 2091.4,447.7 C2079.0,444.0 2067.0,443.1 2053.0,439.3 C2039.0,435.6 2020.2,429.1 2007.4,425.2 C1994.6,421.3 1985.5,418.1 1975.9,415.7 C1966.3,413.3 1958.1,412.6 1950.0,411.0 C1941.9,409.4 1933.1,409.4 1927.1,406.3 C1921.1,403.2 1918.5,396.8 1914.0,392.1 C1909.5,387.4 1904.0,383.1 1899.8,377.9 C1895.6,372.6 1891.9,366.4 1888.8,360.6 C1885.7,354.8 1883.3,349.3 1880.9,343.3 C1878.5,337.3 1876.2,331.5 1874.6,324.4 C1873.0,317.3 1872.1,308.7 1871.5,300.8 C1870.9,292.9 1870.8,285.1 1871.0,277.2 C1871.2,269.3 1872.0,260.6 1873.0,253.6 C1874.0,246.6 1875.7,241.9 1876.9,235.2 C1878.2,228.5 1879.2,220.7 1880.5,213.4 C1881.8,206.1 1883.2,198.9 1884.9,191.6 C1886.6,184.3 1888.8,176.3 1890.7,169.8 C1892.6,163.3 1894.3,158.5 1896.5,152.4 C1898.7,146.3 1901.1,139.8 1903.8,133.5 C1906.5,127.2 1909.3,120.6 1912.5,114.6 C1915.7,108.5 1918.6,103.0 1922.7,97.2 C1926.8,91.4 1932.4,85.0 1937.2,79.7Z" fill="url(#cylg2)"/>
<g clip-path="url(#bodyclip2)"><path d="M2010.0,42.0 L2043.3,46.5 L2080.0,53.0 L2150.0,69.0 L2225.3,86.4 L2268.8,98.0 L2290.6,112.6" fill="none" stroke="#0040c4" stroke-width="9" filter="url(#soft2)"/></g>
<path d="M1930.5,92.0 C1936.0,84.7 1941.8,78.2 1947.5,72.0 C1953.2,65.8 1959.0,59.7 1964.5,55.0 C1970.0,50.3 1975.8,46.0 1980.5,44.0 C1985.2,42.0 1989.2,42.3 1992.5,43.0 C1995.8,43.7 1999.3,44.8 2000.5,48.0 C2001.7,51.2 2000.5,56.3 1999.5,62.0 C1998.5,67.7 1996.3,76.3 1994.5,82.0 C1992.7,87.7 1991.5,92.5 1988.5,96.0 C1985.5,99.5 1981.8,100.3 1976.5,103.0 C1971.2,105.7 1962.8,109.2 1956.5,112.0 C1950.2,114.8 1943.5,117.5 1938.5,120.0 C1933.5,122.5 1930.2,123.7 1926.5,127.0 C1922.8,130.3 1919.3,136.2 1916.5,140.0 C1913.7,143.8 1911.3,150.0 1909.5,150.0 C1907.7,150.0 1904.7,145.7 1905.5,140.0 C1906.3,134.3 1910.3,124.0 1914.5,116.0 C1918.7,108.0 1925.0,99.3 1930.5,92.0Z" fill="#00b4ff"/>
<path d="M1878.0,250.0 L1888.0,257.0 L1893.0,264.0 L1899.0,257.5 L1923.0,252.5 L1960.0,222.5 L2016.3,201.9 L2035.0,201.9 L2038.8,207.5 L2031.3,216.9 L2036.9,233.8 L2025.7,243.2 L2035.0,254.4 L2035.0,269.5 L2022.0,275.0 L2040.7,288.2 L2029.4,305.1 L2042.6,318.2 L2038.8,335.1 L2044.4,342.6 L2040.7,361.4 L2050.0,372.7 L2058.0,392.0 L2066.0,402.0 L2075.0,425.0 L2086.0,440.0 L2091.4,447.7 L2053.0,439.3 L2007.4,425.2 L1975.9,415.7 L1950.0,411.0 L1928.1,402.6 L1914.0,392.1 L1899.8,377.9 L1888.8,360.6 L1880.9,343.3 L1875.5,324.4 L1874.0,300.8 L1876.0,270.0Z" fill="url(#patchg2)"/>
<path d="M2050.0,372.7 L2062.0,378.0 L2070.0,392.0 L2078.0,398.0 L2084.0,414.0 L2094.0,420.0 L2100.7,442.0 L2119.5,432.7 L2128.0,452.0 L2140.0,462.0 L2127.2,461.4 L2091.4,447.7 L2075.0,425.0 L2058.0,392.0Z" fill="#0010d8"/>
<path d="M2104.5,232.0 L2112.0,226.0 L2115.8,239.4 L2108.2,263.8 L2104.5,292.0 L2102.6,320.0 L2104.5,357.7 L2110.0,395.0 L2119.5,432.7 L2128.0,455.0 L2112.0,452.0 L2100.7,442.0 L2080.0,395.0 L2076.3,357.7 L2078.2,320.0 L2083.9,282.6 L2091.4,252.6Z" fill="#0004f2"/>
<path d="M2128.0,196.0 L2133.0,196.0 L2127.0,214.0 L2120.0,222.0 L2119.0,212.0Z" fill="#0004f2"/>
<path d="M2104.0,232.0 L2108.0,238.0 L2100.0,262.0 L2096.0,262.0 L2098.0,246.0Z" fill="#0030f8"/>
<g clip-path="url(#bodyclip2)"><path d="M2232.5,88.0 C2243.1,83.0 2258.4,87.2 2268.8,90.0 C2279.2,92.8 2284.0,100.0 2295.0,105.0 C2306.0,110.0 2329.2,57.5 2335.0,120.0 C2340.8,182.5 2351.8,420.6 2330.0,480.0 C2308.2,539.4 2228.9,479.2 2204.3,476.5 C2179.7,473.8 2189.9,468.1 2182.3,464.0 C2174.7,459.9 2165.8,458.0 2158.7,452.0 C2151.6,446.0 2145.1,437.3 2139.8,428.0 C2134.5,418.7 2130.1,408.0 2127.0,396.0 C2123.9,384.0 2121.5,370.5 2121.0,356.0 C2120.5,341.5 2121.8,323.5 2124.0,309.0 C2126.2,294.5 2129.8,282.2 2134.0,269.0 C2138.2,255.8 2144.0,244.2 2149.0,230.0 C2154.0,215.8 2158.2,197.7 2164.0,184.0 C2169.8,170.3 2177.2,158.7 2184.0,148.0 C2190.8,137.3 2196.9,130.0 2205.0,120.0 C2213.1,110.0 2221.9,93.0 2232.5,88.0Z" fill="#003aa8" filter="url(#soft3)"/></g>
<path d="M2176.0,158.0 C2174.2,162.3 2168.9,174.8 2165.0,184.0 C2161.1,193.2 2155.5,205.7 2152.6,213.4 C2149.7,221.1 2151.1,220.7 2147.7,230.0 C2144.2,239.3 2136.1,256.2 2131.9,269.3 C2127.7,282.4 2124.6,294.3 2122.5,308.7 C2120.4,323.1 2118.8,341.5 2119.3,355.9 C2119.8,370.3 2122.2,383.5 2125.6,395.3 C2129.0,407.1 2134.3,417.5 2139.8,426.7 C2145.3,435.9 2151.6,444.3 2158.7,450.3 C2165.8,456.3 2174.4,460.2 2182.3,462.9 C2190.2,465.6 2202.1,465.9 2206.0,466.5" fill="none" stroke="#007cac" stroke-width="9.5"/>
<path d="M2176.0,158.0 C2174.2,162.3 2168.9,174.8 2165.0,184.0 C2161.1,193.2 2155.5,205.7 2152.6,213.4 C2149.7,221.1 2151.1,220.7 2147.7,230.0 C2144.2,239.3 2136.1,256.2 2131.9,269.3 C2127.7,282.4 2124.6,294.3 2122.5,308.7 C2120.4,323.1 2118.8,341.5 2119.3,355.9 C2119.8,370.3 2122.2,383.5 2125.6,395.3 C2129.0,407.1 2134.3,417.5 2139.8,426.7 C2145.3,435.9 2151.6,444.3 2158.7,450.3 C2165.8,456.3 2174.4,460.2 2182.3,462.9 C2190.2,465.6 2202.1,465.9 2206.0,466.5" fill="none" stroke="#008c9c" stroke-width="4.5" transform="translate(1 0)"/>
<path d="M2262.0,168.0 C2247.0,168.7 2247.3,168.1 2240.0,172.0 C2232.7,175.9 2224.6,184.7 2218.0,191.6 C2211.4,198.5 2206.5,204.2 2200.6,213.4 C2194.7,222.6 2187.7,236.4 2182.3,247.0 C2176.9,257.6 2171.2,264.3 2168.1,277.2 C2164.9,290.1 2163.9,311.8 2163.4,324.4 C2162.9,337.0 2163.6,342.7 2165.0,352.8 C2166.4,362.9 2167.8,375.1 2172.0,385.0 C2176.2,394.9 2182.8,404.5 2190.0,412.0 C2197.2,419.5 2191.7,427.0 2215.0,430.0 C2238.3,433.0 2310.8,473.7 2330.0,430.0 C2349.2,386.3 2341.3,211.7 2330.0,168.0 C2318.7,124.3 2277.0,167.3 2262.0,168.0Z" fill="url(#bandg2)"/>
<path d="M2262.3,172.5 C2260.4,172.6 2254.2,172.7 2250.8,173.4 C2247.4,174.2 2246.8,173.6 2241.8,177.0 C2236.7,180.4 2226.8,187.7 2220.5,194.1 C2214.1,200.5 2208.6,207.4 2203.5,215.3 C2198.5,223.2 2193.9,233.5 2190.2,241.5 C2186.5,249.5 2182.7,259.7 2181.2,263.3" fill="none" stroke="url(#grg2b)" stroke-width="7.5"/>
<path d="M2261.8,166.0 C2259.7,166.2 2253.3,166.1 2249.3,167.1 C2245.4,168.0 2243.7,167.9 2238.1,171.6 C2232.5,175.3 2222.6,182.8 2215.9,189.5 C2209.2,196.2 2203.3,203.6 2198.1,211.8 C2192.8,220.0 2188.1,230.6 2184.3,238.7 C2180.5,246.9 2176.7,257.2 2175.2,260.9" fill="none" stroke="url(#grg2)" stroke-width="7"/>
<path d="M2327.5,63.7 C2321.3,72.4 2301.6,98.3 2290.6,116.0 C2279.6,133.7 2270.7,150.8 2261.6,169.8 C2252.5,188.8 2242.5,213.4 2235.8,230.0 C2229.1,246.6 2225.8,253.6 2221.6,269.3 C2217.4,285.0 2213.5,307.3 2210.6,324.4 C2207.7,341.4 2205.6,353.2 2204.3,371.6 C2203.0,390.0 2202.5,416.2 2202.8,434.6 C2203.1,453.0 2205.4,474.1 2205.9,482.0 L2330,482 L2330,60 Z" fill="#0000fa"/>
<path d="M2064.0,37.8 C2061.9,37.2 2054.8,34.8 2051.4,34.1 C2047.9,33.5 2047.8,33.7 2043.2,33.7 C2038.7,33.7 2032.2,33.9 2024.1,34.2 C2016.0,34.5 2002.1,34.8 1994.5,35.7 C1986.9,36.7 1983.7,37.7 1978.3,39.7 C1973.0,41.7 1967.6,44.4 1962.4,47.7 C1957.2,51.1 1952.1,55.5 1947.0,60.0 C1942.0,64.5 1937.0,69.5 1932.0,75.0 C1927.0,80.5 1921.3,87.1 1917.0,93.2 C1912.7,99.2 1909.6,105.1 1906.3,111.4 C1903.0,117.6 1900.1,124.3 1897.4,130.8 C1894.6,137.2 1892.1,143.9 1889.9,150.0 C1887.7,156.2 1886.0,161.2 1884.0,167.8 C1882.0,174.5 1879.8,182.6 1878.1,190.0 C1876.4,197.4 1875.0,204.8 1873.6,212.1 C1872.3,219.5 1871.3,227.2 1870.0,233.9 C1868.8,240.7 1867.1,245.4 1866.1,252.6 C1865.1,259.8 1864.3,268.9 1864.0,277.0 C1863.7,285.1 1863.9,293.2 1864.5,301.3 C1865.1,309.5 1866.1,318.5 1867.8,325.9 C1869.4,333.3 1871.9,339.5 1874.4,345.9 C1876.9,352.2 1879.3,357.9 1882.7,364.0 C1886.0,370.0 1889.9,376.7 1894.3,382.3 C1898.8,387.8 1904.3,393.0 1909.4,397.4 C1914.5,401.8 1919.3,405.8 1924.8,408.8 C1930.3,411.7 1936.4,413.5 1942.3,415.3 C1948.3,417.1 1957.3,419.0 1960.3,419.8" fill="none" stroke="url(#ringdk2)" stroke-width="13"/>
<path d="M2049.8,46.0 C2048.7,45.9 2047.5,45.7 2043.3,45.7 C2039.1,45.7 2032.5,45.9 2024.6,46.2 C2016.7,46.5 2002.9,46.9 1995.9,47.7 C1988.9,48.5 1987.0,49.3 1982.6,51.0 C1978.1,52.7 1973.5,54.8 1968.9,57.8 C1964.3,60.8 1959.7,64.7 1955.0,68.9 C1950.4,73.1 1945.6,77.9 1940.9,83.1 C1936.2,88.3 1930.8,94.4 1926.8,100.1 C1922.8,105.7 1920.0,111.0 1916.9,116.9 C1913.9,122.8 1911.0,129.3 1908.4,135.4 C1905.8,141.6 1903.4,148.1 1901.2,154.1 C1899.1,160.1 1897.4,164.8 1895.5,171.2 C1893.6,177.7 1891.4,185.6 1889.8,192.7 C1888.1,199.9 1886.7,207.1 1885.4,214.3 C1884.1,221.5 1883.1,229.5 1881.8,236.1 C1880.6,242.8 1878.9,247.4 1878.0,254.3 C1877.0,261.2 1876.2,269.7 1876.0,277.4 C1875.8,285.0 1875.9,292.8 1876.5,300.4 C1877.1,308.1 1878.0,316.5 1879.5,323.3 C1881.0,330.2 1883.3,335.7 1885.6,341.5 C1887.8,347.3 1890.2,352.7 1893.2,358.2 C1896.2,363.8 1899.7,369.8 1903.7,374.8 C1907.7,379.8 1912.8,384.4 1917.3,388.3 C1921.8,392.2 1925.7,395.6 1930.5,398.2 C1935.3,400.8 1943.5,403.0 1946.1,403.9" fill="none" stroke="url(#ringin1)" stroke-width="4.5"/>
<path d="M2050.0,41.0 C2048.9,41.0 2047.6,40.7 2043.3,40.7 C2039.0,40.7 2032.4,40.9 2024.4,41.2 C2016.4,41.5 2002.6,41.9 1995.3,42.7 C1988.0,43.6 1985.6,44.5 1980.8,46.3 C1976.0,48.1 1971.0,50.5 1966.2,53.6 C1961.4,56.8 1956.5,60.9 1951.7,65.2 C1946.9,69.5 1942.0,74.4 1937.2,79.7 C1932.4,85.0 1926.8,91.4 1922.7,97.2 C1918.6,103.0 1915.7,108.5 1912.5,114.6 C1909.3,120.6 1906.5,127.2 1903.8,133.5 C1901.1,139.8 1898.7,146.3 1896.5,152.4 C1894.3,158.5 1892.6,163.3 1890.7,169.8 C1888.8,176.3 1886.6,184.3 1884.9,191.6 C1883.2,198.9 1881.8,206.1 1880.5,213.4 C1879.2,220.7 1878.2,228.5 1876.9,235.2 C1875.7,241.9 1874.0,246.6 1873.0,253.6 C1872.0,260.6 1871.2,269.3 1871.0,277.2 C1870.8,285.1 1870.9,292.9 1871.5,300.8 C1872.1,308.7 1873.0,317.3 1874.6,324.4 C1876.2,331.5 1878.5,337.3 1880.9,343.3 C1883.3,349.3 1885.7,354.8 1888.8,360.6 C1891.9,366.4 1895.6,372.6 1899.8,377.9 C1904.0,383.1 1909.3,388.0 1914.0,392.1 C1918.7,396.2 1923.0,399.9 1928.1,402.6 C1933.2,405.4 1941.7,407.6 1944.4,408.6" fill="none" stroke="url(#ringhot2)" stroke-width="5.2" stroke-linecap="round"/>
</g></g><g font-family="'Liberation Sans', 'DejaVu Sans', sans-serif" font-size="54" fill="#111"><text x="1435.4" y="520.7" textLength="32.8" lengthAdjust="spacingAndGlyphs">B</text><text x="1990.1" y="520.7" textLength="32.8" lengthAdjust="spacingAndGlyphs">B</text></g>
<defs><filter id="ash" x="-10%" y="-20%" width="120%" height="150%"><feGaussianBlur stdDeviation="5"/></filter></defs>
<path d="M1793,498.4 L1388.5,412.4 M1435,393 L1388.5,412.4 L1425,446" transform="translate(5 10.5)" fill="none" stroke="#383838" stroke-opacity="0.42" stroke-width="12" stroke-linejoin="miter" filter="url(#ash)"/>
<path d="M1826,624 L1923.3,420 M1881.5,447 L1923.3,420 L1926,473" transform="translate(5 10.5)" fill="none" stroke="#383838" stroke-opacity="0.42" stroke-width="12" stroke-linejoin="miter" filter="url(#ash)"/>
<path d="M1793,498.4 L1388.5,412.4 M1435,393 L1388.5,412.4 L1425,446" fill="none" stroke="#ff9d4c" stroke-width="11.5" stroke-linejoin="miter" stroke-miterlimit="10"/>
<path d="M1826,624 L1923.3,420 M1881.5,447 L1923.3,420 L1926,473" fill="none" stroke="#ff9d4c" stroke-width="11.5" stroke-linejoin="miter" stroke-miterlimit="10"/>
<g fill="#000" shape-rendering="crispEdges">
<rect x="234.7" y="150.2" width="6.5" height="1381.2"/>
<rect x="208.2" y="1497.5" width="1775.8" height="6.5"/>
<rect x="221.3" y="1408.0" width="16.6" height="6.5"/>
<rect x="208.2" y="1315.2" width="29.7" height="6.5"/>
<rect x="221.3" y="1226.2" width="16.6" height="6.5"/>
<rect x="208.2" y="1136.5" width="29.7" height="6.5"/>
<rect x="221.3" y="1047.0" width="16.6" height="6.5"/>
<rect x="208.2" y="957.5" width="29.7" height="6.5"/>
<rect x="221.3" y="868.2" width="16.6" height="6.5"/>
<rect x="208.2" y="779.2" width="29.7" height="6.5"/>
<rect x="221.3" y="689.5" width="16.6" height="6.5"/>
<rect x="208.2" y="597.0" width="29.7" height="6.5"/>
<rect x="221.3" y="507.2" width="16.6" height="6.5"/>
<rect x="208.2" y="417.9" width="29.7" height="6.5"/>
<rect x="221.3" y="329.2" width="16.6" height="6.5"/>
<rect x="208.2" y="239.7" width="29.7" height="6.5"/>
<rect x="221.3" y="150.2" width="16.6" height="6.5"/>
<rect x="320.3" y="1500.8" width="6.4" height="16.8"/>
<rect x="407.4" y="1500.8" width="6.4" height="30.8"/>
<rect x="494.6" y="1500.8" width="6.4" height="16.8"/>
<rect x="581.7" y="1500.8" width="6.4" height="30.8"/>
<rect x="668.8" y="1500.8" width="6.4" height="16.8"/>
<rect x="756.0" y="1500.8" width="6.4" height="30.8"/>
<rect x="843.1" y="1500.8" width="6.4" height="16.8"/>
<rect x="930.3" y="1500.8" width="6.4" height="30.8"/>
<rect x="1017.5" y="1500.8" width="6.4" height="16.8"/>
<rect x="1104.6" y="1500.8" width="6.4" height="30.8"/>
<rect x="1191.8" y="1500.8" width="6.4" height="16.8"/>
<rect x="1278.9" y="1500.8" width="6.4" height="30.8"/>
<rect x="1366.0" y="1500.8" width="6.4" height="16.8"/>
<rect x="1453.2" y="1500.8" width="6.4" height="30.8"/>
<rect x="1540.3" y="1500.8" width="6.4" height="16.8"/>
<rect x="1627.5" y="1500.8" width="6.4" height="30.8"/>
<rect x="1714.6" y="1500.8" width="6.4" height="16.8"/>
<rect x="1801.8" y="1500.8" width="6.4" height="30.8"/>
<rect x="1888.9" y="1500.8" width="6.4" height="16.8"/>
<rect x="1977.5" y="1500.8" width="6.4" height="30.8"/>
</g>
<g font-family="'Liberation Sans', Arial, sans-serif" font-size="58" fill="#101018">
<text x="234.4" y="1590.4" text-anchor="middle" letter-spacing="-0.6">10</text>
<text x="408.7" y="1590.4" text-anchor="middle" letter-spacing="-0.6">20</text>
<text x="583.0" y="1590.4" text-anchor="middle" letter-spacing="-0.6">30</text>
<text x="757.3" y="1590.4" text-anchor="middle" letter-spacing="-0.6">40</text>
<text x="931.6" y="1590.4" text-anchor="middle" letter-spacing="-0.6">50</text>
<text x="1105.9" y="1590.4" text-anchor="middle" letter-spacing="-0.6">60</text>
<text x="1280.2" y="1590.4" text-anchor="middle" letter-spacing="-0.6">70</text>
<text x="1454.5" y="1590.4" text-anchor="middle" letter-spacing="-0.6">80</text>
<text x="1628.8" y="1590.4" text-anchor="middle" letter-spacing="-0.6">90</text>
<text x="1801.5" y="1590.4" text-anchor="middle" letter-spacing="-2.6">100</text>
<text x="1975.8" y="1590.4" text-anchor="middle" letter-spacing="-1.2">110</text>
<text x="190.2" y="1517.7" text-anchor="end" letter-spacing="0">0</text>
<text x="190.2" y="1335.6" text-anchor="end" letter-spacing="0">2</text>
<text x="190.2" y="1156.8" text-anchor="end" letter-spacing="0">4</text>
<text x="190.2" y="977.8" text-anchor="end" letter-spacing="0">6</text>
<text x="190.2" y="799.6" text-anchor="end" letter-spacing="0">8</text>
<text x="187.4" y="617.3" text-anchor="end" letter-spacing="-3.4">10</text>
<text x="187.4" y="438.3" text-anchor="end" letter-spacing="-3.4">12</text>
<text x="187.4" y="260.0" text-anchor="end" letter-spacing="-3.4">14</text>
</g>
<g fill="#000">
<text x="849" y="1706.3" font-family="'Liberation Sans', Arial, sans-serif" font-size="70">Pressure</text>
<text x="1125.8" y="1704.7" font-family="'Noto Sans CJK SC', 'Liberation Sans', sans-serif" font-size="54" font-weight="300">（</text>
<text x="1195.3" y="1706.3" font-family="'Liberation Sans', Arial, sans-serif" font-size="70" letter-spacing="-1.6">KN</text>
<text x="1300.6" y="1704.7" font-family="'Noto Sans CJK SC', 'Liberation Sans', sans-serif" font-size="54" font-weight="300">）</text>
<g transform="translate(97.5 0) rotate(-90)" font-family="'Liberation Sans', Arial, sans-serif" font-size="70">
<text x="-1383.2" y="0" letter-spacing="1.2">Maximum</text>
<text x="-1044" y="0" letter-spacing="0.71">principal</text>
<text x="-753.7" y="0" letter-spacing="1.38">strain</text>
<text x="-579.4" y="0">(</text>
<text x="-551.7" y="0">1</text>
<text x="-511.3" y="0">0</text>
<text x="-476.4" y="-28.5" font-size="64">-</text>
<text x="-453.8" y="-29" font-size="65">4</text>
<text x="-415.6" y="0">)</text>
</g></g>
<rect x="340.6" y="155.4" width="508.5" height="182" fill="#fff" stroke="#000" stroke-width="3.2" shape-rendering="crispEdges"/>
<g shape-rendering="crispEdges">
<rect x="378" y="205.1" width="153.6" height="3.3" fill="#000"/>
<rect x="440" y="191.4" width="32.9" height="30.8" fill="#000"/>
<rect x="378" y="294.6" width="153.6" height="3.4" fill="#f00"/>
</g>
<circle cx="456.4" cy="297.8" r="17" fill="#f00"/>
<g font-family="'Liberation Sans', Arial, sans-serif" font-size="68" fill="#000">
<text x="549.5" y="232" textLength="283" lengthAdjust="spacing">unilateral</text>
<text x="549.5" y="321.4" textLength="243" lengthAdjust="spacing">bilateral</text>
</g>
<polyline points="410.6,1286.8 758.2,1072.7 1107.7,897.5 1457.1,684.4 1804.8,511.0" fill="none" stroke="#000" stroke-width="3.4"/>
<polyline points="410.6,1311.7 759.9,1132.5 1108.0,969.2 1455.6,772.0 1804.8,627.7" fill="none" stroke="#f00" stroke-width="3.4"/>
<rect x="394.8" y="1271.0" width="31.6" height="31.6" fill="#000"/>
<rect x="742.4" y="1056.9" width="31.6" height="31.6" fill="#000"/>
<rect x="1091.9" y="881.7" width="31.6" height="31.6" fill="#000"/>
<rect x="1441.3" y="668.6" width="31.6" height="31.6" fill="#000"/>
<rect x="1789.0" y="495.2" width="31.6" height="31.6" fill="#000"/>
<circle cx="410.6" cy="1311.7" r="17" fill="#f00"/>
<circle cx="759.9" cy="1132.5" r="17" fill="#f00"/>
<circle cx="1108.0" cy="969.2" r="17" fill="#f00"/>
<circle cx="1455.6" cy="772.0" r="17" fill="#f00"/>
<circle cx="1804.8" cy="627.7" r="17" fill="#f00"/>
<g>
<rect x="1929.3" y="726.9" width="84.6" height="41.2" fill="#ff0000"/>
<rect x="1929.3" y="767.6" width="84.6" height="41.2" fill="#ff6400"/>
<rect x="1929.3" y="808.2" width="84.6" height="41.2" fill="#ffb400"/>
<rect x="1929.3" y="848.9" width="84.6" height="41.2" fill="#e0ff00"/>
<rect x="1929.3" y="889.6" width="84.6" height="41.2" fill="#00f000"/>
<rect x="1929.3" y="930.3" width="84.6" height="41.2" fill="#00f000"/>
<rect x="1929.3" y="971.0" width="84.6" height="41.2" fill="#00f000"/>
<rect x="1929.3" y="1011.6" width="84.6" height="41.2" fill="#00ff80"/>
<rect x="1929.3" y="1052.3" width="84.6" height="41.2" fill="#00ffe0"/>
<rect x="1929.3" y="1093.0" width="84.6" height="41.2" fill="#00b4ff"/>
<rect x="1929.3" y="1133.7" width="84.6" height="41.2" fill="#0050ff"/>
<rect x="1929.3" y="1174.3" width="84.6" height="41.2" fill="#0000ff"/>
<rect x="1929.3" y="725.3" width="84.6" height="3.2" fill="#000" opacity="0.45"/>
<rect x="2013.9" y="725.3" width="21.5" height="3.2" fill="#555"/>
<rect x="1929.3" y="766.0" width="84.6" height="3.2" fill="#000" opacity="0.45"/>
<rect x="2013.9" y="766.0" width="21.5" height="3.2" fill="#555"/>
<rect x="1929.3" y="806.6" width="84.6" height="3.2" fill="#000" opacity="0.45"/>
<rect x="2013.9" y="806.6" width="21.5" height="3.2" fill="#555"/>
<rect x="1929.3" y="847.3" width="84.6" height="3.2" fill="#000" opacity="0.45"/>
<rect x="2013.9" y="847.3" width="21.5" height="3.2" fill="#555"/>
<rect x="1929.3" y="888.0" width="84.6" height="3.2" fill="#000" opacity="0.45"/>
<rect x="2013.9" y="888.0" width="21.5" height="3.2" fill="#555"/>
<rect x="1929.3" y="928.7" width="84.6" height="3.2" fill="#000" opacity="0.45"/>
<rect x="2013.9" y="928.7" width="21.5" height="3.2" fill="#555"/>
<rect x="1929.3" y="969.4" width="84.6" height="3.2" fill="#000" opacity="0.45"/>
<rect x="2013.9" y="969.4" width="21.5" height="3.2" fill="#555"/>
<rect x="1929.3" y="1010.0" width="84.6" height="3.2" fill="#000" opacity="0.45"/>
<rect x="2013.9" y="1010.0" width="21.5" height="3.2" fill="#555"/>
<rect x="1929.3" y="1050.7" width="84.6" height="3.2" fill="#000" opacity="0.45"/>
<rect x="2013.9" y="1050.7" width="21.5" height="3.2" fill="#555"/>
<rect x="1929.3" y="1091.4" width="84.6" height="3.2" fill="#000" opacity="0.45"/>
<rect x="2013.9" y="1091.4" width="21.5" height="3.2" fill="#555"/>
<rect x="1929.3" y="1132.1" width="84.6" height="3.2" fill="#000" opacity="0.45"/>
<rect x="2013.9" y="1132.1" width="21.5" height="3.2" fill="#555"/>
<rect x="1929.3" y="1172.7" width="84.6" height="3.2" fill="#000" opacity="0.45"/>
<rect x="2013.9" y="1172.7" width="21.5" height="3.2" fill="#555"/>
<rect x="1929.3" y="1213.4" width="84.6" height="3.2" fill="#000" opacity="0.45"/>
<rect x="2013.9" y="1213.4" width="21.5" height="3.2" fill="#555"/>
<rect x="1927.8" y="725.3" width="3.4" height="491.3" fill="#101010"/>
<rect x="2011.5" y="725.3" width="3.4" height="491.3" fill="#202020"/>
<g font-family="'DejaVu Sans', Verdana, sans-serif" font-size="42.5" fill="#5e5e5e">
<text x="2057" y="743.1" textLength="258" lengthAdjust="spacingAndGlyphs">0.001101</text>
<text x="2057" y="784.1" textLength="258" lengthAdjust="spacingAndGlyphs">0.001100</text>
<text x="2057" y="825.2" textLength="258" lengthAdjust="spacingAndGlyphs">0.001001</text>
<text x="2057" y="866.2" textLength="258" lengthAdjust="spacingAndGlyphs">0.000902</text>
<text x="2057" y="907.2" textLength="258" lengthAdjust="spacingAndGlyphs">0.000803</text>
<text x="2057" y="948.2" textLength="258" lengthAdjust="spacingAndGlyphs">0.000704</text>
<text x="2057" y="989.3" textLength="258" lengthAdjust="spacingAndGlyphs">0.000605</text>
<text x="2057" y="1030.3" textLength="258" lengthAdjust="spacingAndGlyphs">0.000505</text>
<text x="2057" y="1071.3" textLength="258" lengthAdjust="spacingAndGlyphs">0.000406</text>
<text x="2057" y="1112.4" textLength="258" lengthAdjust="spacingAndGlyphs">0.000307</text>
<text x="2057" y="1153.4" textLength="258" lengthAdjust="spacingAndGlyphs">0.000208</text>
<text x="2057" y="1194.4" textLength="258" lengthAdjust="spacingAndGlyphs">0.000109</text>
<text x="2057" y="1235.5" textLength="258" lengthAdjust="spacingAndGlyphs">0.000010</text>
</g></g>
</svg>
</body></html>
